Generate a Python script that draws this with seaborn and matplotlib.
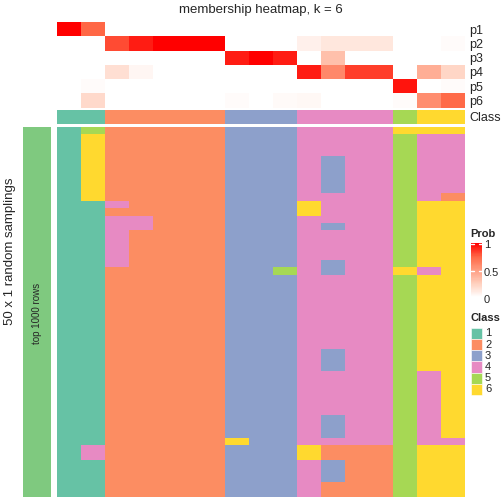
import numpy as np
import pandas as pd
import seaborn as sns
import matplotlib.pyplot as plt
from matplotlib.colors import ListedColormap, LinearSegmentedColormap
from matplotlib.patches import Rectangle

sns.set_style('white')
plt.rcParams['font.family'] = ['Liberation Sans', 'DejaVu Sans']

# membership probabilities, 17 columns (samples)
p1 = [1.0, 0.75, 0, 0, 0, 0, 0, 0, 0, 0, 0, 0, 0, 0, 0, 0, 0]
p2 = [0, 0, 0.82, 0.93, 1.0, 1.0, 1.0, 0, 0, 0, 0.08, 0.13, 0.13, 0.13, 0, 0, 0.02]
p3 = [0, 0, 0, 0, 0, 0, 0, 0.93, 1.0, 0.93, 0, 0.33, 0, 0, 0, 0, 0]
p4 = [0, 0, 0.17, 0.05, 0, 0, 0, 0, 0, 0, 0.93, 0.6, 0.85, 0.85, 0, 0.42, 0.22]
p5 = [0, 0.02, 0, 0, 0, 0, 0, 0, 0, 0, 0, 0, 0, 0, 0.95, 0, 0.02]
p6 = [0, 0.2, 0, 0, 0, 0, 0, 0.02, 0, 0.03, 0.04, 0, 0, 0, 0.02, 0.58, 0.74]
row_labels = ['p1', 'p2', 'p3', 'p4', 'p5', 'p6']
final_class = [1, 1, 2, 2, 2, 2, 2, 3, 3, 3, 4, 4, 4, 4, 5, 6, 6]

# class calls in the 50 random samplings (row ranges are inclusive, cols 1-based)
n_samp = 50
overrides = [
    # (first row, last row, columns, class)
    (0, 0, [2], 5), (0, 0, [15], 6),
    (1, 9, [2], 6), (1, 9, [16, 17], 4), (9, 9, [17], 2),
    (4, 8, [12], 3),
    (10, 10, [3], 4), (10, 11, [11], 6),
    (12, 13, [3, 4], 4), (13, 13, [12], 3), (14, 18, [3], 4),
    (18, 19, [12], 3), (19, 19, [10], 5), (19, 19, [15], 6), (19, 19, [16], 4),
    (30, 32, [12], 3), (33, 41, [16], 4), (39, 41, [12], 3),
    (42, 42, [16, 17], 4), (42, 42, [8], 6),
    (43, 44, [2], 4), (43, 44, [11], 6), (43, 49, [12, 13, 14], 2),
    (45, 47, [12], 3),
]

class_colors = ['#66C2A5', '#FC8D62', '#8DA0CB', '#E78AC3', '#A6D854', '#FFD92F']
class_cmap = ListedColormap(class_colors)
prob_cmap = LinearSegmentedColormap.from_list(
    'prob', ['#FFFFFF', '#FFD0BE', '#FF9E82', '#FF6846', '#FF0000'])

samp = np.tile(final_class, (n_samp, 1))
for r0, r1, cols, cl in overrides:
    for c in cols:
        samp[r0:r1 + 1, c - 1] = cl

prob = pd.DataFrame([p1, p2, p3, p4, p5, p6], index=row_labels)

W = H = 504.0
fig = plt.figure(figsize=(5.04, 5.04), dpi=100)


def box(x0, y0, x1, y1):
    return [x0 / W, 1 - y1 / H, (x1 - x0) / W, (y1 - y0) / H]


x0, x1 = 57, 465

ax_p = fig.add_axes(box(x0, 22, x1, 107.7))
sns.heatmap(prob, ax=ax_p, cmap=prob_cmap, vmin=0, vmax=1, cbar=False,
            xticklabels=False, yticklabels=row_labels)
ax_p.yaxis.tick_right()
ax_p.tick_params(axis='y', length=0, labelsize=9, labelrotation=0, pad=3)

ax_c = fig.add_axes(box(x0, 109.5, x1, 123.5))
sns.heatmap(np.array([final_class]), ax=ax_c, cmap=class_cmap, vmin=0.5, vmax=6.5,
            cbar=False, xticklabels=False, yticklabels=['Class'])
ax_c.yaxis.tick_right()
ax_c.tick_params(axis='y', length=0, labelsize=9, labelrotation=0, pad=3)

ax_s = fig.add_axes(box(x0, 126.7, x1, 496.7))
sns.heatmap(samp, ax=ax_s, cmap=class_cmap, vmin=0.5, vmax=6.5, cbar=False,
            xticklabels=False, yticklabels=False)

ax_l = fig.add_axes(box(22.7, 126.7, 51, 496.7))
sns.heatmap(np.ones((1, 1)), ax=ax_l, cmap=ListedColormap(['#7FC97F']), cbar=False,
            xticklabels=False, yticklabels=False)
fig.text(37 / W, 1 - 313 / H, 'top 1000 rows', rotation=90, ha='center', va='center',
         fontsize=7)

fig.text(10 / W, 1 - 251 / H, '50 x 1 random samplings', rotation=90,
         ha='center', va='center', fontsize=9.5)
fig.text(261 / W, 1 - 10 / H, 'membership heatmap, k = 6', ha='center', va='center',
         fontsize=9.5)

# prob colour bar
ax_cb = fig.add_axes(box(471, 243, 481.7, 297.5))
grad = np.linspace(1, 0, 100).reshape(-1, 1)
sns.heatmap(grad, ax=ax_cb, cmap=prob_cmap, vmin=0, vmax=1, cbar=False,
            xticklabels=False, yticklabels=False)
for v in [1, 0.5]:
    yy = (1 - v) * 100 + 1
    ax_cb.plot([0, 0.25], [yy, yy], color='white', lw=1)
    ax_cb.plot([0.75, 1], [yy, yy], color='white', lw=1)
fig.text(470.5 / W, 1 - 234 / H, 'Prob', fontsize=8, fontweight='bold', va='center')
for v, yy in [('1', 245), ('0.5', 273), ('0', 300)]:
    fig.text(484 / W, 1 - yy / H, v, fontsize=8, va='center')

# class legend
fig.text(470.5 / W, 1 - 318 / H, 'Class', fontsize=8, fontweight='bold', va='center')
for i, col in enumerate(class_colors):
    top = 327.7 + i * 11.2
    fig.add_artist(Rectangle((471 / W, 1 - (top + 11.2) / H), 10.7 / W, 11.2 / H,
                             facecolor=col, edgecolor='white', lw=0.4,
                             transform=fig.transFigure))
    fig.text(485 / W, 1 - (top + 5.6) / H, str(i + 1), fontsize=8, va='center')

plt.savefig('out.png', dpi=100)
